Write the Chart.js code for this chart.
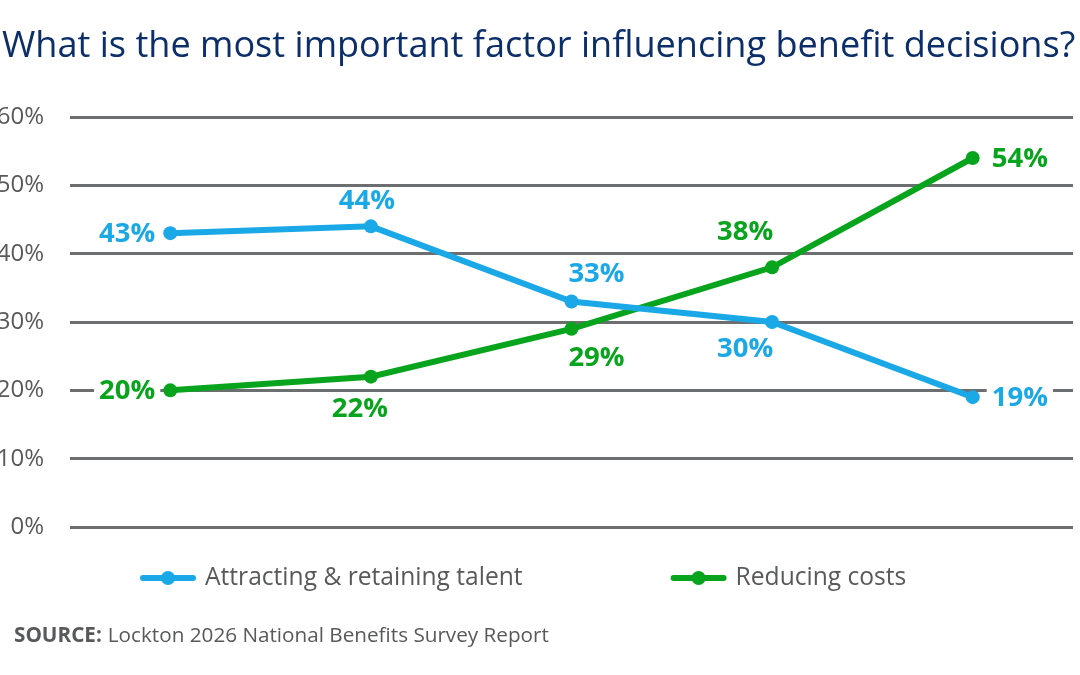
<!DOCTYPE html>
<html>
<head>
<meta charset="utf-8">
<script src="https://cdn.jsdelivr.net/npm/chart.js@4.4.1/dist/chart.umd.min.js"></script>
<style>
  html, body { margin: 0; padding: 0; background: #fff; }
  #wrap { width: 1080px; height: 675px; }
</style>
</head>
<body>
<div id="wrap"><canvas id="chart" width="1080" height="675"></canvas></div>
<script>
// Data
const categories = ['1', '2', '3', '4', '5'];
const talentValues = [43, 44, 33, 30, 19];
const costValues = [20, 22, 29, 38, 54];
const yTicks = [0, 10, 20, 30, 40, 50, 60];
const seriesNames = ['Attracting & retaining talent', 'Reducing costs'];
// where each value label sits relative to its point
const talentLabelPos = ['left', 'above', 'aboveRight', 'belowLeft', 'right'];
const costLabelPos = ['left', 'below', 'belowRight', 'aboveLeft', 'right'];

const titleText = 'What is the most important factor influencing benefit decisions?';
const sourceBold = 'SOURCE:';
const sourceText = 'Lockton 2026 National Benefits Survey Report';

const BLUE = '#1ba8e6';
const GREEN = '#09a41d';
const NAVY = '#0c2e69';
const GREY = '#58595b';
const FONT = '"Open Sans", "Noto Sans", sans-serif';

// offsets for value labels [dx, dy, align]
const placements = {
  left:       [-15, 1, 'right'],
  right:      [19, 1, 'left'],
  above:      [-4, -25, 'center'],
  below:      [-11, 33, 'center'],
  aboveRight: [25, -27, 'center'],
  belowRight: [25, 29, 'center'],
  aboveLeft:  [-27, -35, 'center'],
  belowLeft:  [-27, 27, 'center']
};

const decor = {
  id: 'decor',
  afterDatasetsDraw(chart) {
    const ctx = chart.ctx;
    ctx.save();
    ctx.font = 'bold 27.5px ' + FONT;
    ctx.textBaseline = 'middle';
    chart.data.datasets.forEach((ds, di) => {
      const meta = chart.getDatasetMeta(di);
      meta.data.forEach((pt, i) => {
        const p = placements[ds.labelPos[i]];
        const txt = ds.data[i] + '%';
        const tw = ctx.measureText(txt).width;
        const x = pt.x + p[0];
        const y = pt.y + p[1];
        let left = x;
        if (p[2] === 'right') left = x - tw;
        else if (p[2] === 'center') left = x - tw / 2;
        // white knockout behind the label, as in the original
        ctx.fillStyle = '#fff';
        ctx.fillRect(left - 5, y - 13, tw + 10, 26);
        ctx.fillStyle = ds.borderColor;
        ctx.textAlign = p[2];
        ctx.fillText(txt, x, y);
      });
    });
    ctx.restore();
  },
  afterDraw(chart) {
    const ctx = chart.ctx;
    ctx.save();
    // title, fitted to the width it has in the picture
    let size = 36;
    ctx.font = size + 'px ' + FONT;
    const w = ctx.measureText(titleText).width;
    size = size * 1073 / w;
    ctx.font = size.toFixed(1) + 'px ' + FONT;
    ctx.fillStyle = NAVY;
    ctx.textAlign = 'left';
    ctx.textBaseline = 'alphabetic';
    ctx.fillText(titleText, 2, 57);

    // legend
    const legendY = 578;
    let x = 140;
    ctx.font = '24.6px ' + FONT;
    ctx.textBaseline = 'middle';
    chart.data.datasets.forEach((ds) => {
      ctx.strokeStyle = ds.borderColor;
      ctx.fillStyle = ds.borderColor;
      ctx.lineWidth = 6;
      ctx.lineCap = 'round';
      ctx.beginPath();
      ctx.moveTo(x + 3, legendY);
      ctx.lineTo(x + 53, legendY);
      ctx.stroke();
      ctx.beginPath();
      ctx.arc(x + 28, legendY, 7, 0, Math.PI * 2);
      ctx.fill();
      ctx.fillStyle = GREY;
      ctx.fillText(ds.label, x + 65, legendY);
      x += 65 + ctx.measureText(ds.label).width + 148;
    });

    // source line
    ctx.textBaseline = 'alphabetic';
    ctx.font = 'bold 20.7px ' + FONT;
    ctx.fillStyle = GREY;
    ctx.fillText(sourceBold, 14, 642);
    const bw = ctx.measureText(sourceBold).width;
    ctx.font = '20.7px ' + FONT;
    ctx.fillText(sourceText, 14 + bw + 6, 642);
    ctx.restore();
  }
};

new Chart(document.getElementById('chart'), {
  type: 'line',
  data: {
    labels: categories,
    datasets: [
      {
        label: seriesNames[0],
        data: talentValues,
        labelPos: talentLabelPos,
        borderColor: BLUE,
        backgroundColor: BLUE,
        borderWidth: 6,
        pointRadius: 7,
        pointBackgroundColor: BLUE,
        pointBorderWidth: 0,
        tension: 0
      },
      {
        label: seriesNames[1],
        data: costValues,
        labelPos: costLabelPos,
        borderColor: GREEN,
        backgroundColor: GREEN,
        borderWidth: 6,
        pointRadius: 7,
        pointBackgroundColor: GREEN,
        pointBorderWidth: 0,
        tension: 0
      }
    ]
  },
  options: {
    responsive: false,
    animation: false,
    layout: { padding: { top: 117, bottom: 148, left: 0, right: 6 } },
    plugins: {
      legend: { display: false },
      title: { display: false },
      tooltip: { enabled: false }
    },
    scales: {
      x: { display: false, offset: true },
      y: {
        min: yTicks[0],
        max: yTicks[yTicks.length - 1],
        afterBuildTicks: (scale) => { scale.ticks = yTicks.map(v => ({ value: v })); },
        afterFit: (scale) => { scale.width = 70; },
        border: { display: false },
        grid: { color: '#6d6e70', lineWidth: 3, drawTicks: false },
        ticks: {
          padding: 26,
          color: GREY,
          font: { family: FONT, size: 24 },
          callback: (v) => v + '%'
        }
      }
    }
  },
  plugins: [decor]
});
</script>
</body>
</html>
